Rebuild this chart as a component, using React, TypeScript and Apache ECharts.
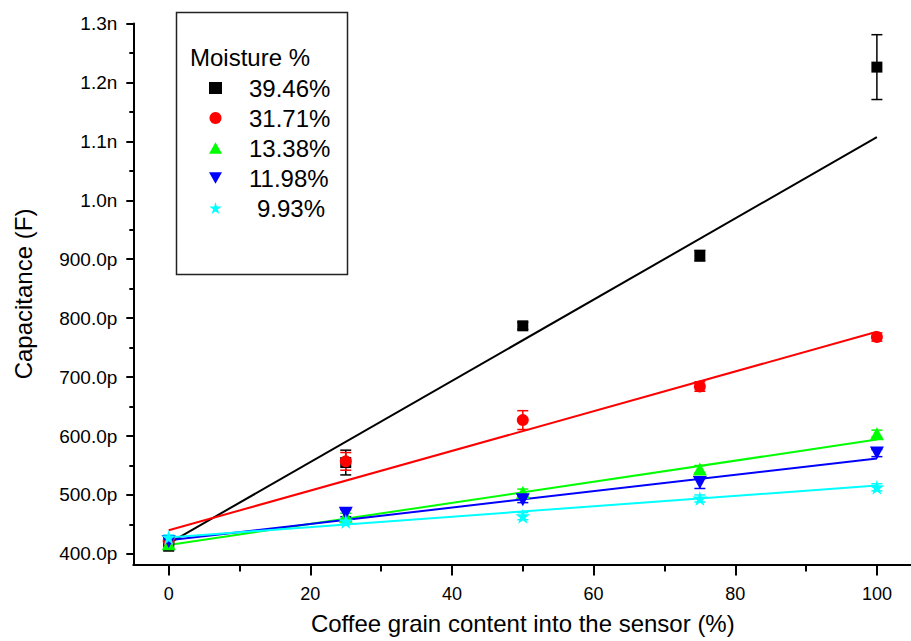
import React, { useEffect, useRef } from "react";
import * as echarts from "echarts";

const xValues = [0, 25, 50, 75, 100];
const seriesNames = ["39.46%", "31.71%", "13.38%", "11.98%", "9.93%"];
const seriesColors = ["#000000", "#ff0000", "#00ff00", "#0000ff", "#00ffff"];

// Capacitance in pF
const moisture3946 = [414, 555, 787, 906, 1226];
const moisture3171 = [422, 557, 627, 684, 768];
const moisture1338 = [417, 464, 504, 544, 604];
const moisture1198 = [421, 469, 492, 521, 571];
const moisture993 = [428, 455, 464, 494, 513];

// error half-widths in pF
const err3946 = [9, 21, 6, 9, 55];
const err3171 = [5, 15, 16, 8, 7];
const err1338 = [4, 5, 6, 6, 6];
const err1198 = [4, 6, 5, 10, 6];
const err993 = [4, 4, 6, 6, 6];

// linear fit endpoints (x = 0 and x = 100)
const fitX = [0, 100];
const fit3946 = [418, 1107];
const fit3171 = [440, 777];
const fit1338 = [415, 594];
const fit1198 = [423, 562];
const fit993 = [428, 516];

const xTickLabels = [0, 20, 40, 60, 80, 100];
const xMinorTicks = [10, 30, 50, 70, 90];
const yTickValues = [400, 500, 600, 700, 800, 900, 1000, 1100, 1200, 1300];
const yMinorTicks = [450, 550, 650, 750, 850, 950, 1050, 1150, 1250];

const allValues = [moisture3946, moisture3171, moisture1338, moisture1198, moisture993];
const allErrors = [err3946, err3171, err1338, err1198, err993];
const allFits = [fit3946, fit3171, fit1338, fit1198, fit993];

const symbols = [
  "rect",
  "circle",
  "path://M5,0 L10,8.66 L0,8.66 Z",
  "path://M0,0 L10,0 L5,8.66 Z",
  "path://M12,0 L14.6,8.4 L24,8.6 L16.5,14 L19.3,23 L12,17.6 L4.7,23 L7.5,14 L0,8.6 L9.4,8.4 Z",
];
const symbolSizes: any[] = [11, 12, [14, 13], [14, 13], 15];

const FONT = "'Liberation Sans', Arial, sans-serif";

function fmtY(v: number): string {
  if (v >= 1000) return (v / 1000).toFixed(1) + "n";
  return v.toFixed(1) + "p";
}

export default function App() {
  const ref = useRef<HTMLDivElement>(null);
  useEffect(() => {
    if (!ref.current) return;
    const chart = echarts.init(ref.current, undefined, { renderer: "svg" });

    const series: any[] = [];
    // fit lines
    allFits.forEach((f, i) => {
      series.push({
        name: "fit " + seriesNames[i],
        type: "line",
        data: fitX.map((x, k) => [x, f[k]]),
        symbol: "none",
        lineStyle: { color: seriesColors[i], width: 2 },
        z: 2,
        silent: true,
      });
    });
    // error bars
    allErrors.forEach((e, i) => {
      const color = seriesColors[i];
      series.push({
        name: "err " + seriesNames[i],
        type: "custom",
        z: 3,
        data: xValues.map((x, k) => [x, allValues[i][k] - e[k], allValues[i][k] + e[k]]),
        encode: { x: 0, y: [1, 2] },
        renderItem: (params: any, api: any) => {
          const x = api.value(0);
          const lo = api.coord([x, api.value(1)]);
          const hi = api.coord([x, api.value(2)]);
          const hw = 5.5;
          const st = { stroke: color, lineWidth: 1.5 };
          return {
            type: "group",
            children: [
              { type: "line", shape: { x1: lo[0], y1: lo[1], x2: hi[0], y2: hi[1] }, style: st },
              { type: "line", shape: { x1: lo[0] - hw, y1: lo[1], x2: lo[0] + hw, y2: lo[1] }, style: st },
              { type: "line", shape: { x1: hi[0] - hw, y1: hi[1], x2: hi[0] + hw, y2: hi[1] }, style: st },
            ],
          };
        },
      });
    });
    // markers
    allValues.forEach((vals, i) => {
      series.push({
        name: seriesNames[i],
        type: "scatter",
        data: xValues.map((x, k) => [x, vals[k]]),
        symbol: symbols[i],
        symbolSize: symbolSizes[i],
        itemStyle: { color: seriesColors[i], opacity: 1 },
        z: 4 + i,
      });
    });

    const option: any = {
      animation: false,
      backgroundColor: "#ffffff",
      textStyle: { fontFamily: FONT },
      grid: { left: 133.3, top: 23.5, width: 779, height: 541, containLabel: false, outerBoundsMode: "none" },
      xAxis: [
        {
          type: "value",
          min: -5,
          max: 105,
          name: "Coffee grain content into the sensor (%)",
          nameLocation: "middle",
          nameGap: 47,
          nameTextStyle: { fontSize: 24, color: "#000", fontFamily: FONT },
          axisLine: { show: true, onZero: false, lineStyle: { color: "#000", width: 2 } },
          axisTick: { show: true, inside: false, length: 11, customValues: xTickLabels, lineStyle: { color: "#000", width: 2 } },
          axisLabel: { show: true, customValues: xTickLabels, fontSize: 18, color: "#000", margin: 20, fontFamily: FONT },
          splitLine: { show: false },
        },
        {
          type: "value",
          min: -5,
          max: 105,
          position: "bottom",
          axisLine: { show: false, onZero: false },
          axisTick: { show: true, length: 7, customValues: xMinorTicks, lineStyle: { color: "#000", width: 2 } },
          axisLabel: { show: false },
          splitLine: { show: false },
        },
      ],
      yAxis: [
        {
          type: "value",
          min: 382,
          max: 1300,
          name: "Capacitance (F)",
          nameLocation: "middle",
          nameGap: 98,
          nameRotate: 90,
          nameTextStyle: { fontSize: 24, color: "#000", fontFamily: FONT },
          axisLine: { show: true, onZero: false, lineStyle: { color: "#000", width: 2 } },
          axisTick: { show: true, inside: false, length: 7, customValues: yTickValues, lineStyle: { color: "#000", width: 2 } },
          axisLabel: { show: true, customValues: yTickValues, fontSize: 19, color: "#000", margin: 16, formatter: fmtY, fontFamily: FONT },
          splitLine: { show: false },
        },
        {
          type: "value",
          min: 382,
          max: 1300,
          position: "left",
          offset: 0,
          axisLine: { show: false, onZero: false },
          axisTick: { show: true, length: 4, customValues: yMinorTicks, lineStyle: { color: "#000", width: 2 } },
          axisLabel: { show: false },
          splitLine: { show: false },
        },
      ],
      legend: {
        show: true,
        data: seriesNames.map((n, i) => ({
          name: n,
          icon: symbols[i],
          itemStyle: { color: seriesColors[i] },
        })),
        orient: "vertical",
        left: 209,
        top: 76,
        itemWidth: 13,
        itemHeight: 12,
        itemGap: 6,
        padding: 0,
        selectedMode: false,
        formatter: (name: string) => (name === "9.93%" ? `{b|${name}}` : `{a|${name}}`),
        textStyle: {
          fontSize: 24,
          lineHeight: 24,
          color: "#000",
          fontFamily: FONT,
          rich: {
            a: { fontSize: 24, lineHeight: 24, padding: [0, 0, 0, 22], color: "#000", fontFamily: FONT },
            b: { fontSize: 24, lineHeight: 24, padding: [0, 0, 0, 30], color: "#000", fontFamily: FONT },
          },
        },
      },
      graphic: [
        {
          type: "rect",
          left: 174,
          top: 10,
          shape: { width: 171, height: 262 },
          style: { fill: "none", stroke: "#222", lineWidth: 1.5 },
          z: 10,
        },
        {
          type: "text",
          left: 190,
          top: 45,
          style: { text: "Moisture %", fontSize: 24, fill: "#000", fontFamily: FONT },
          z: 10,
        },
      ],
      series,
    };
    chart.setOption(option);
    return () => chart.dispose();
  }, []);
  return (
    <div
      ref={ref}
      style={{ position: "absolute", left: 0, top: 0, width: 911, height: 641 }}
    />
  );
}
